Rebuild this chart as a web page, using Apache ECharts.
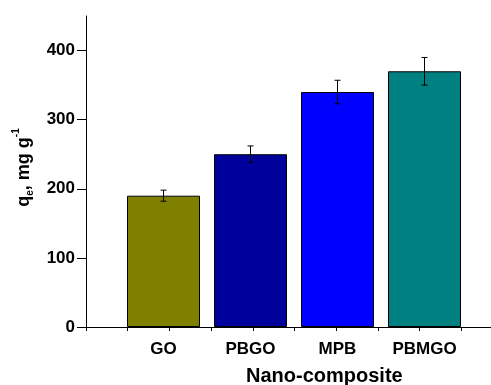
<!DOCTYPE html>
<html>
<head>
<meta charset="utf-8">
<script src="https://cdn.jsdelivr.net/npm/echarts@6/dist/echarts.min.js"></script>
<style>html,body{margin:0;padding:0;background:#fff;}#c{width:491px;height:385px;}</style>
</head>
<body>
<div id="c"></div>
<script>
const categories = ['GO', 'PBGO', 'MPB', 'PBMGO'];
const values = [190, 250, 340, 370];
const errors = [8, 12, 17, 20];
const yMajorTicks = [0, 100, 200, 300, 400];
const yMinorTicks = [50, 150, 250, 350];
const xTicks = [0, 1, 2, 3, 4, 5, 6, 7, 8, 9];

const barColors = ['#808000', '#00009C', '#0000FF', '#008080'];
const FONT = 'Liberation Sans, Arial, sans-serif';

const chart = echarts.init(document.getElementById('c'), null, {renderer: 'canvas'});
const option = {
  animation: false,
  backgroundColor: '#fff',
  grid: [
    {left: 86, right: 0, top: 16, bottom: 58, containLabel: false},
    {left: 120, width: 348, top: 16, bottom: 58, containLabel: false}
  ],
  xAxis: [
    {
      type: 'value', gridIndex: 0, min: 0, max: 9.71,
      axisLine: {show: true, lineStyle: {color: '#000', width: 1}},
      axisTick: {show: true, length: 4, customValues: xTicks, lineStyle: {color: '#000'}},
      axisLabel: {show: false},
      splitLine: {show: false}
    },
    {
      type: 'category', gridIndex: 1, data: categories,
      axisLine: {show: false}, axisTick: {show: false},
      axisLabel: {show: true, margin: 14, fontSize: 17, fontWeight: 'bold', color: '#000', fontFamily: FONT},
      splitLine: {show: false}
    }
  ],
  yAxis: [
    {
      type: 'value', gridIndex: 0, min: 0, max: 450,
      axisLine: {show: true, lineStyle: {color: '#000', width: 1}},
      axisTick: {show: true, length: 9, customValues: yMajorTicks, lineStyle: {color: '#000'}},
      axisLabel: {show: true, customValues: yMajorTicks, margin: 11, fontSize: 17, fontWeight: 'bold', color: '#000', fontFamily: FONT},
      splitLine: {show: false},
      name: '{a|q}{b|e}{a|, mg g}{c|-1}',
      nameLocation: 'middle', nameRotate: 90, nameGap: 47,
      nameTextStyle: {
        color: '#000', fontFamily: FONT, fontWeight: 'bold', fontSize: 18,
        padding: [0, 0, 0, 8],
        rich: {
          a: {fontSize: 18, fontWeight: 'bold', color: '#000', fontFamily: FONT, lineHeight: 24, verticalAlign: 'middle'},
          b: {fontSize: 10, fontWeight: 'bold', color: '#000', fontFamily: FONT, lineHeight: 24, verticalAlign: 'bottom'},
          c: {fontSize: 10, fontWeight: 'bold', color: '#000', fontFamily: FONT, lineHeight: 24, verticalAlign: 'top'}
        }
      }
    },
    {
      type: 'value', gridIndex: 0, min: 0, max: 450,
      axisLine: {show: false},
      axisTick: {show: true, length: 4, customValues: yMinorTicks, lineStyle: {color: '#000'}},
      axisLabel: {show: false},
      splitLine: {show: false}
    },
    {
      type: 'value', gridIndex: 1, min: 0, max: 450, show: false
    }
  ],
  graphic: [
    {
      type: 'text', left: 325 - 79, top: 366,
      style: {text: 'Nano-composite', fill: '#000', font: 'bold 20px ' + FONT}
    }
  ],
  series: [
    {
      type: 'bar', xAxisIndex: 1, yAxisIndex: 2,
      barWidth: 73,
      data: values.map((v, i) => ({value: v, itemStyle: {color: barColors[i]}})),
      itemStyle: {borderColor: '#000', borderWidth: 1}
    },
    {
      type: 'custom', xAxisIndex: 1, yAxisIndex: 2,
      data: values.map((v, i) => [i, v, errors[i]]),
      encode: {x: 0, y: 1},
      z: 10,
      renderItem: function (params, api) {
        const i = api.value(0), v = api.value(1), e = api.value(2);
        const top = api.coord([i, v + e]);
        const bot = api.coord([i, v - e]);
        const hw = 3;
        const st = {stroke: '#000', lineWidth: 1};
        return {
          type: 'group',
          children: [
            {type: 'line', shape: {x1: top[0], y1: top[1], x2: bot[0], y2: bot[1]}, style: st},
            {type: 'line', shape: {x1: top[0] - hw, y1: top[1], x2: top[0] + hw, y2: top[1]}, style: st},
            {type: 'line', shape: {x1: bot[0] - hw, y1: bot[1], x2: bot[0] + hw, y2: bot[1]}, style: st}
          ]
        };
      }
    }
  ]
};
chart.setOption(option);
</script>
</body>
</html>
